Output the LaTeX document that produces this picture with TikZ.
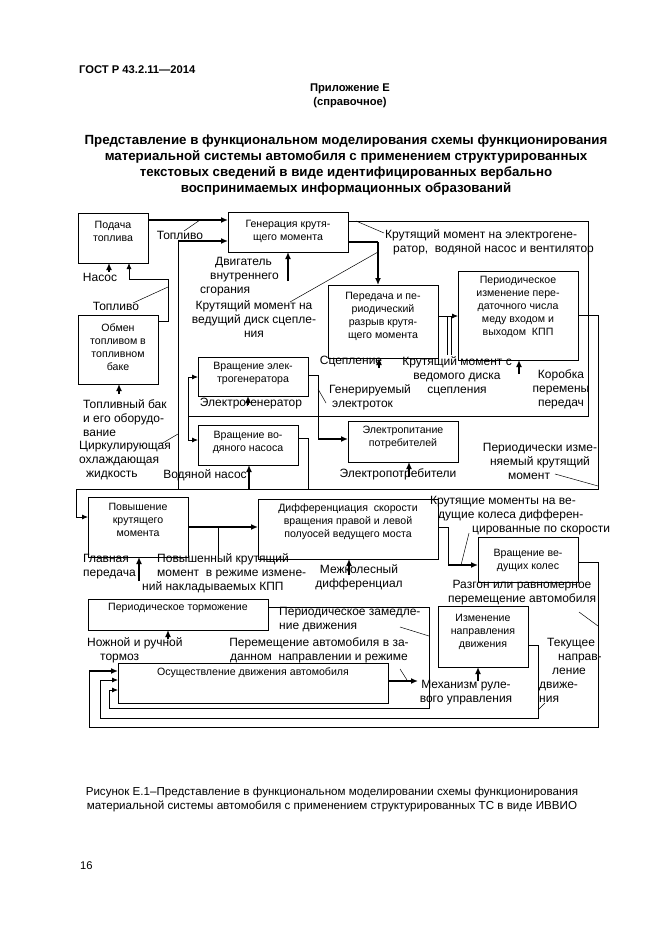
\documentclass[tikz,border=0pt]{standalone}
\usepackage{fontspec}
\setmainfont{Liberation Sans}
\usetikzlibrary{arrows.meta,calc}
\tikzset{
 box/.style={draw, line width=0.8pt, inner sep=0pt, outer sep=0pt},
 btxt/.style={font=\fontsize{10.6}{13}\selectfont, align=center, inner sep=0pt},
 lbl/.style={font=\fontsize{12}{14}\selectfont, align=center, inner sep=0pt},
 lbll/.style={lbl, align=left, anchor=west},
 ln/.style={line width=0.8pt},
 arr/.style={line width=0.8pt, -{Latex[length=6pt,width=5pt]}},
 tarr/.style={line width=2pt, -{Latex[length=7pt,width=6pt]}},
 tln/.style={line width=2pt},
 lead/.style={line width=0.5pt},
}
\begin{document}
\begin{tikzpicture}[x=1pt,y=-1pt]
\useasboundingbox (0,0) rectangle (661,936);
\fill[white] (0,0) rectangle (661,936);

% header
\node[font=\bfseries\fontsize{11.2}{12}\selectfont, anchor=west, inner sep=0pt] (gost) at (79,70) {ГОСТ Р 43.2.11—2014};
\node[font=\bfseries\fontsize{11.2}{14}\selectfont, align=center, inner sep=0pt] (app) at (350,96) {Приложение Е\\(справочное)};
\node[font=\bfseries\fontsize{13.3}{16}\selectfont, align=center, inner sep=0pt] (title) at (346,165) {Представление в функциональном моделирования схемы функционирования\\материальной системы автомобиля с применением структурированных\\текстовых сведений в виде идентифицированных вербально\\воспринимаемых информационных образований};

% boxes
\node[box, minimum width=70pt, minimum height=50pt] (b1) at (113,238) {};
\node[box, minimum width=120pt, minimum height=40pt] (b2) at (288,232) {};
\node[box, minimum width=80pt, minimum height=69pt] (b3) at (118,349.5) {};
\node[box, minimum width=110pt, minimum height=73pt] (b4) at (383,321.5) {};
\node[box, minimum width=120pt, minimum height=89pt] (b5) at (518,315.5) {};
\node[box, minimum width=110pt, minimum height=39pt] (b6) at (253,376.5) {};
\node[box, minimum width=100pt, minimum height=40pt] (b7) at (248,445) {};
\node[box, minimum width=110pt, minimum height=41pt] (b8) at (403,441.5) {};
\node[box, minimum width=100pt, minimum height=60pt] (b9) at (138,527) {};
\node[box, minimum width=180pt, minimum height=60pt] (b10) at (348,529) {};
\node[box, minimum width=100pt, minimum height=45pt] (b11) at (528,559.5) {};
\node[box, minimum width=180pt, minimum height=31pt] (b12) at (178,614.5) {};
\node[box, minimum width=270pt, minimum height=40pt] (b13) at (253,683) {};
\node[box, minimum width=90pt, minimum height=61pt] (b14) at (483,636.5) {};

% box texts
\node[btxt] (t1) at (113,231) {Подача\\топлива};
\node[btxt] (t2) at (288,231) {Генерация крутя-\\щего момента};
\node[btxt] (t3) at (118,347) {Обмен\\топливом в\\топливном\\баке};
\node[btxt] (t4) at (383,316.5) {Передача и пе-\\риодический\\разрыв крутя-\\щего момента};
\node[btxt] (t5) at (518,307) {Периодическое\\изменение пере-\\даточного числа\\меду входом и\\выходом~ КПП};
\node[btxt] (t6) at (253,373.5) {Вращение элек-\\трогенератора};
\node[btxt] (t7) at (248,442) {Вращение во-\\дяного насоса};
\node[btxt] (t8) at (403,437) {Электропитание\\потребителей};
\node[btxt] (t9) at (138,520) {Повышение\\крутящего\\момента};
\node[btxt] (t10) at (348,522) {Дифференциация~ скорости\\вращения правой и левой\\полуосей ведущего моста};
\node[btxt] (t11) at (528,560) {Вращение ве-\\дущих колес};
\node[btxt] (t12) at (178,608) {Периодическое торможение};
\node[btxt] (t13) at (253,673) {Осуществление движения автомобиля};
\node[btxt] (t14) at (483,632) {Изменение\\направления\\движения};

% free ends of mechanism arrows
\coordinate (mNasos) at (109,272);
\coordinate (mBak) at (119,394);
\coordinate (mDvig) at (288,281);
\coordinate (mSc) at (379,368);
\coordinate (mKpp) at (519,374);
\coordinate (mEg) at (248,405);
\coordinate (mVn) at (249,489);
\coordinate (mEp) at (409,477);
\coordinate (mGp) at (139,581);
\coordinate (mMk) at (349,575);
\coordinate (mTor) at (168,639);
\coordinate (mRul) at (478,681);
\coordinate (outMove) at (418,681);

% mechanism arrows
\draw[tarr] (mNasos) -- (b1.south -| mNasos);
\draw[tarr] (mBak) -- (b3.south -| mBak);
\draw[tarr] (mDvig) -- (b2.south -| mDvig);
\draw[tarr] (mSc) -- (b4.south -| mSc);
\draw[tarr] (mKpp) -- (b5.south -| mKpp);
\draw[tarr] (mEg) -- (b6.south -| mEg);
\draw[tarr] (mVn) -- (b7.south -| mVn);
\draw[tarr] (mEp) -- (b8.south -| mEp);
\draw[tarr] (mGp) -- (b9.south -| mGp);
\draw[tarr] (mMk) -- (b10.south -| mMk);
\draw[tarr] (mTor) -- (b12.south -| mTor);
\draw[tarr] (mRul) -- (b14.south -| mRul);

% fuel
\draw[tarr] (b1.east |- 0,220) -- (b2.west |- 0,220);
\draw[arr] (b3.east |- 0,321) -- (168,321) -- (168,279) -- (129,279) -- (b1.south -| 129,0);
% coolant
\draw[ln] (178,489) -- (178,241);
\draw[tarr] (178,241) -- (b2.west |- 0,241);
% torque to clutch
\draw[tln] (b2.east |- 0,242) -- (378,242);
\draw[tarr] (378,242) -- (b4.north -| 378,0);
% torque to generator and pump
\draw[ln] (b2.east |- 0,221) -- (588,221) -- (588,416) -- (188,416);
\draw[arr] (188,416) |- (b6.west |- 0,377);
\draw[arr] (188,416) |- (b7.west |- 0,440);
% generator to consumers
\draw[ln] (b6.east |- 0,375) -- (318,375) -- (318,439);
\draw[tarr] (318,439) -- (b8.west |- 0,439);
% pump output
\draw[ln] (b7.east |- 0,438) -- (308,438) -- (308,489);
% clutch to gearbox
\draw[arr] (b4.east |- 0,316) -- (b5.west |- 0,316);
\draw[ln] (447,316) -- (447,355);
\draw[ln] (451,316) -- (451,355);
% gearbox to final drive
\draw[ln] (b5.east |- 0,315) -- (598,315) -- (598,489) -- (76,489) -- (76,517);
\draw[arr] (76,517) -- (b9.west |- 0,517);
% final drive to differential
\draw[tarr] (b9.east |- 0,527) -- (b10.west |- 0,527);
\draw[lead] (218,527) -- (218,556);
% differential to wheels
\draw[ln] (b10.east |- 0,527) -- (448,527) -- (448,565);
\draw[tarr] (448,565) -- (b11.west |- 0,565);
% feedback loops into motion
\draw[ln] (b11.east |- 0,562) -- (598,562) -- (598,727) -- (89,727) -- (89,671);
\draw[tarr] (89,671) -- (b13.west |- 0,671);
\draw[ln] (b12.east |- 0,607) -- (429,607) -- (429,708) -- (109,708) -- (109,690);
\draw[arr] (109,690) -- (b13.west |- 0,690);
\draw[ln] (b14.east |- 0,645) -- (538,645) -- (538,718) -- (100,718) -- (100,680);
\draw[arr] (100,680) -- (b13.west |- 0,680);
\draw[tarr] (b13.east |- 0,681) -- (outMove);

% leaders
\draw[lead] (184,231) -- (200,220);
\draw[lead] (133,303) -- (168,287);
\draw[lead] (161,444) -- (178,434);
\draw[lead] (290,302) -- (378,252);
\draw[lead] (356,221) -- (384,233);
\draw[lead] (318,389) -- (326,403);
\draw[lead] (555,474) -- (598,486);
\draw[lead] (461,565) -- (469,533);
\draw[lead] (579,612) -- (598,626);
\draw[lead] (400,627) -- (429,636);
\draw[lead] (400,669) -- (407,680);
\draw[lead] (538,710) -- (545,703);

% labels
\node[lbl] (l1) at (180,235) {Топливо};
\node[lbl] (l2) at (100,277) {Насос};
\node[lbl] (l3) at (116,306) {Топливо};
\node[lbll] (l4) at (83,418) {Топливный бак\\и его оборудо-\\вание};
\node[lbll] (l5) at (79,461) {Циркулирующая\\охлаждающая\\\hspace*{7pt}жидкость};
\node[lbll] (l6) at (200,277) {\hspace*{15pt}Двигатель\\\hspace*{10pt}внутреннего\\сгорания};
\node[lbl] (l7) at (254,319) {Крутящий момент на\\ведущий диск сцепле-\\ния};
\node[lbll] (l8) at (385,242) {Крутящий момент на электрогене-\\\hspace*{8pt}ратор,~ водяной насос и вентилятор};
\node[lbl] (l9) at (351,362) {Сцепление};
\node[lbl] (l10) at (457,376) {Крутящий момент с\\ведомого диска\\сцепления};
\node[lbl] (l11) at (561,389) {Коробка\\перемены\\передач};
\node[lbll] (l12) at (329,397) {Генерируемый\\\hspace*{3pt}электроток};
\node[lbl] (l13) at (251,404) {Электрогенератор};
\node[lbl] (l14) at (205,475) {Водяной насос};
\node[lbl] (l15) at (398,474) {Электропотребители};
\node[lbl] (l16) at (540,461) {Периодически изме-\\няемый крутящий\\момент\hspace*{22pt}};
\node[lbll] (l17) at (83,566.5) {Главная\\передача};
\node[lbll] (l18) at (142,573) {\hspace*{15pt}Повышенный крутящий\\\hspace*{15pt}момент~ в режиме измене-\\ний накладываемых КПП};
\node[lbl] (l19) at (359,577) {Межколесный\\дифференциал};
\node[lbll] (l20) at (430,516) {Крутящие моменты на ве-\\\hspace*{8pt}дущие колеса дифферен-\\\hspace*{42pt}цированные по скорости};
\node[lbl] (l21) at (522,593) {Разгон или равномерное\\перемещение автомобиля};
\node[lbll] (l22) at (87,650) {Ножной и ручной\\\hspace*{13pt}тормоз};
\node[lbll] (l23) at (279,620) {Периодическое замедле-\\ние движения};
\node[lbl] (l24) at (319,650) {Перемещение автомобиля в за-\\данном~ направлении и режиме};
\node[lbl] (l25) at (466,693) {Механизм руле-\\вого управления};
\node[lbll] (l26) at (539,670.5) {\hspace*{8pt}Текущее\\\hspace*{19pt}направ-\\\hspace*{13pt}ление\\движе-\\ния};

% caption and page number
\node[font=\fontsize{11.6}{14}\selectfont, align=center, inner sep=0pt] (cap) at (332,799) {Рисунок Е.1–Представление в функциональном моделировании схемы функционирования\\материальной системы автомобиля с применением структурированных ТС в виде ИВВИО};
\node[font=\fontsize{11.2}{12}\selectfont, anchor=west, inner sep=0pt] (pg) at (80,866) {16};
\end{tikzpicture}
\end{document}
